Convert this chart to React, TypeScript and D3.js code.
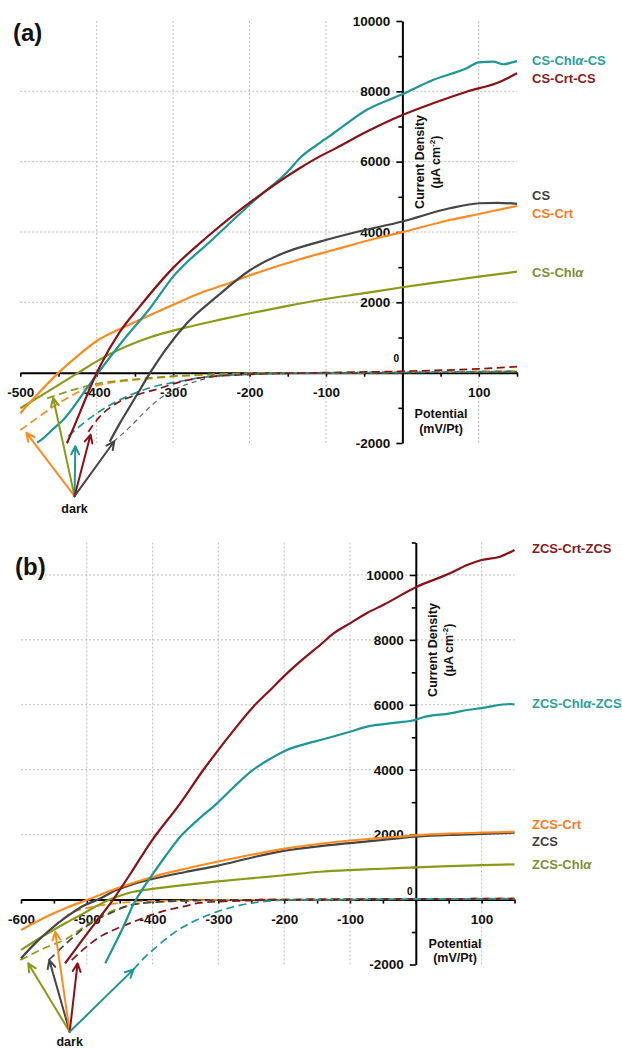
import React, { useEffect, useRef } from 'react';
import * as d3 from 'd3';

type Pt = [number, number];

const FONT = "'Liberation Sans', Arial, Helvetica, sans-serif";

const COLORS: Record<string, string> = {
  teal: "#1c9696",
  red: "#8b1116",
  gray: "#454545",
  orange: "#ff8b1e",
  olive: "#8b9a16",
};
const LABEL_COLORS: Record<string, string> = {
  teal: "#28a09c",
  red: "#8a1a1c",
  gray: "#3f3f3f",
  orange: "#ff7a1e",
  olive: "#7e8e36",
};

// ---------- panel (a): illuminated curves (potential mV, current uA/cm2)
const aCsChlaCs: Pt[] = [[-478, -1990], [-470, -1866], [-457, -1600], [-444, -1345], [-413, -444], [-400, -60], [-365, 930], [-330, 1840], [-300, 2730], [-250, 3760], [-193, 4911], [-150, 5720], [-134, 6106], [-108, 6533], [-90, 6808], [-47, 7470], [0, 7917], [40, 8323], [84, 8656], [100, 8826], [119, 8844], [132, 8770], [147, 8844], [150, 8860]];
const aCsCrtCs: Pt[] = [[-439, -2007], [-428, -1450], [-418, -920], [-402, -100], [-396, 170], [-370, 1150], [-343, 1900], [-300, 2980], [-256, 3850], [-221, 4480], [-195, 4911], [-134, 5820], [-108, 6150], [-90, 6350], [-47, 6850], [0, 7327], [40, 7660], [84, 7990], [128, 8275], [150, 8513]];
const aCs: Pt[] = [[-383, -1962], [-370, -1450], [-356, -940], [-343, -470], [-330, 0], [-310, 650], [-282, 1405], [-243, 2160], [-199, 2920], [-156, 3395], [-108, 3725], [-60, 4000], [0, 4300], [62, 4675], [101, 4817], [125, 4830], [150, 4800]];
const aCsCrt: Pt[] = [[-500, -1155], [-475, -560], [-450, 0], [-425, 480], [-400, 900], [-365, 1290], [-330, 1640], [-300, 1930], [-265, 2258], [-230, 2520], [-199, 2770], [-134, 3226], [-90, 3489], [-45, 3760], [0, 3998], [62, 4342], [100, 4513], [150, 4741]];
const aCsChla: Pt[] = [[-500, -1012], [-462, -510], [-424, 0], [-400, 320], [-374, 620], [-331, 1000], [-282, 1290], [-240, 1500], [-199, 1689], [-150, 1900], [-108, 2067], [-50, 2260], [0, 2428], [50, 2580], [100, 2730], [150, 2872]];

// panel (a): dark curves
const aCsCrtDark: Pt[] = [[-500, -1630], [-478, -1290], [-457, -967], [-435, -680], [-413, -444], [-392, -330], [-370, -256], [-326, -160], [-300, -110], [-250, -55], [-200, -25], [-100, -5], [0, 10], [150, 50]];
const aCsChlaDark: Pt[] = [[-465, -730], [-431, -490], [-396, -300], [-356, -200], [-300, -100], [-250, -50], [-200, -20], [-100, 0], [0, 10], [150, 40]];
const aCsChlaCsDark: Pt[] = [[-437, -1800], [-418, -1450], [-400, -1155], [-370, -776], [-339, -492], [-317, -350], [-300, -284], [-256, -120], [-200, -50], [-100, -10], [0, 5], [150, 40]];
const aCsCrtCsDark: Pt[] = [[-411, -1680], [-396, -1250], [-374, -870], [-348, -634], [-317, -444], [-300, -320], [-265, -150], [-200, -50], [-100, 0], [0, 40], [100, 110], [150, 170]];
const aCsDark: Pt[] = [[-378, -1962], [-356, -1535], [-339, -1155], [-317, -730], [-300, -500], [-270, -250], [-248, -120], [-200, -40], [-100, -5], [0, 0], [150, 30]];

const aDarkOrigin: Pt = [-429, -3513];
const aDarkTips: { color: string; tip: Pt }[] = [
  { color: "orange", tip: [-492, -1713] },
  { color: "olive", tip: [-457, -719] },
  { color: "teal", tip: [-428, -2093] },
  { color: "red", tip: [-408, -1761] },
  { color: "gray", tip: [-377, -1951] },
];

const aXLabels = [-500, -400, -300, -200, -100, 100];
const aYLabels = [-2000, 2000, 4000, 6000, 8000, 10000];
const aXGrid = [-400, -300, -200, -100, 100];
const aYGrid = [2000, 4000, 6000, 8000];

// ---------- panel (b): illuminated curves
const bZcsCrtZcs: Pt[] = [[-533, -1966], [-497, -980], [-460, 0], [-432, 850], [-404, 1734], [-358, 2966], [-323, 3992], [-302, 4560], [-275, 5260], [-247, 5942], [-220, 6480], [-201, 6867], [-176, 7329], [-145, 7850], [-125, 8200], [-100, 8510], [-74, 8830], [-49, 9080], [0, 9622], [52, 10051], [78, 10307], [100, 10461], [128, 10562], [150, 10769]];
const bZcsChlaZcs: Pt[] = [[-472, -1963], [-458, -1400], [-444, -820], [-430, -180], [-415, 330], [-399, 807], [-380, 1350], [-358, 1935], [-330, 2480], [-302, 2965], [-275, 3500], [-247, 4000], [-220, 4350], [-196, 4608], [-170, 4780], [-145, 4916], [-100, 5172], [-74, 5330], [-30, 5450], [0, 5540], [10, 5610], [52, 5738], [78, 5840], [100, 5900], [143, 6025], [150, 6016]];
const bZcsCrt: Pt[] = [[-600, -940], [-556, -478], [-528, -230], [-500, -15], [-455, 340], [-399, 703], [-350, 950], [-302, 1165], [-250, 1380], [-201, 1560], [-145, 1720], [-100, 1820], [-50, 1900], [0, 1980], [50, 2030], [100, 2060], [150, 2090]];
const bZcs: Pt[] = [[-600, -1810], [-580, -1380], [-556, -930], [-530, -520], [-505, -190], [-483, 0], [-455, 293], [-430, 470], [-399, 640], [-350, 850], [-302, 1040], [-250, 1290], [-201, 1500], [-145, 1649], [-100, 1741], [-50, 1840], [0, 1935], [50, 1990], [100, 2020], [150, 2059]];
const bZcsChla: Pt[] = [[-600, -1550], [-578, -1270], [-556, -1000], [-530, -700], [-505, -425], [-485, -200], [-465, 0], [-445, 150], [-429, 240], [-400, 330], [-353, 447], [-300, 560], [-252, 653], [-200, 750], [-145, 857], [-100, 909], [-50, 950], [0, 992], [50, 1030], [100, 1060], [150, 1085]];

// panel (b): dark curves
const bZcsCrtDark: Pt[] = [[-551, -840], [-538, -620], [-525, -423], [-508, -300], [-490, -220], [-455, -115], [-420, -60], [-350, -25], [-250, -5], [-100, 0], [150, 40]];
const bZcsChlaDark: Pt[] = [[-601, -1865], [-565, -1500], [-530, -1197], [-505, -850], [-480, -530], [-455, -300], [-429, -150], [-380, -60], [-300, -20], [-200, 0], [150, 20]];
const bZcsDark: Pt[] = [[-558, -1865], [-530, -1330], [-505, -888], [-485, -620], [-465, -425], [-429, -150], [-380, -60], [-300, -20], [-200, 0], [150, 20]];
const bZcsCrtZcsDark: Pt[] = [[-523, -1865], [-502, -1480], [-480, -1146], [-455, -900], [-429, -684], [-403, -480], [-378, -324], [-350, -200], [-328, -100], [-250, -30], [-150, 0], [150, 30]];
const bZcsChlaZcsDark: Pt[] = [[-429, -2151], [-412, -1780], [-394, -1455], [-374, -1120], [-353, -838], [-328, -580], [-302, -375], [-277, -220], [-252, -117], [-201, -20], [-100, 0], [150, 20]];

const bDarkOrigin: Pt = [-526, -4074];
const bDarkTips: { color: string; tip: Pt }[] = [
  { color: "olive", tip: [-589, -1966] },
  { color: "gray", tip: [-557, -1865] },
  { color: "orange", tip: [-548, -992] },
  { color: "red", tip: [-514, -1966] },
  { color: "teal", tip: [-429, -2151] },
];

const bXLabels = [-600, -500, -400, -300, -200, -100, 100];
const bYLabels = [-2000, 2000, 4000, 6000, 8000, 10000];
const bXGrid = [-500, -400, -300, -200, -100, 100];
const bYGrid = [2000, 4000, 6000, 8000, 10000];

interface Series { data: Pt[]; color: string; dashed?: boolean; thin?: boolean }
interface Legend { text: string; color: string; x: number; y: number }
interface PanelSpec {
  tag: string; tagX: number; tagY: number;
  xDomain: [number, number]; xRange: [number, number];
  yDomain: [number, number]; yRange: [number, number];
  xLabels: number[]; yLabels: number[]; xGrid: number[]; yGrid: number[];
  series: Series[]; legends: Legend[];
  origin: Pt; tips: { color: string; tip: Pt }[]; darkDy: number;
  zeroDx: number; zeroDy: number;
  yTitle: { x1: number; x2: number; cy: number };
  xTitle: { cx: number; y1: number; y2: number };
}

const panels: PanelSpec[] = [
  {
    tag: "(a)", tagX: 13, tagY: 41,
    xDomain: [-500, 150], xRange: [20.3, 517],
    yDomain: [-2000, 10000], yRange: [443, 21],
    xLabels: aXLabels, yLabels: aYLabels, xGrid: aXGrid, yGrid: aYGrid,
    series: [
      { data: aCsCrtDark, color: "orange", dashed: true },
      { data: aCsChlaDark, color: "olive", dashed: true },
      { data: aCsChlaCsDark, color: "teal", dashed: true },
      { data: aCsCrtCsDark, color: "red", dashed: true },
      { data: aCsDark, color: "gray", dashed: true, thin: true },
      { data: aCsChla, color: "olive" },
      { data: aCsCrt, color: "orange" },
      { data: aCs, color: "gray" },
      { data: aCsChlaCs, color: "teal" },
      { data: aCsCrtCs, color: "red" },
    ],
    legends: [
      { text: "CS-Chlα-CS", color: "teal", x: 532, y: 65 },
      { text: "CS-Crt-CS", color: "red", x: 532, y: 83 },
      { text: "CS", color: "gray", x: 532, y: 200 },
      { text: "CS-Crt", color: "orange", x: 532, y: 218 },
      { text: "CS-Chlα", color: "olive", x: 532, y: 276.5 },
    ],
    origin: aDarkOrigin, tips: aDarkTips, darkDy: 17,
    zeroDx: -6, zeroDy: -11,
    yTitle: { x1: 423.5, x2: 440, cy: 162 },
    xTitle: { cx: 441, y1: 418, y2: 432.5 },
  },
  {
    tag: "(b)", tagX: 15, tagY: 575,
    xDomain: [-600, 150], xRange: [21, 514.5],
    yDomain: [-2000, 11000], yRange: [964.5, 542.5],
    xLabels: bXLabels, yLabels: bYLabels, xGrid: bXGrid, yGrid: bYGrid,
    series: [
      { data: bZcsCrtDark, color: "orange", dashed: true },
      { data: bZcsChlaDark, color: "olive", dashed: true },
      { data: bZcsDark, color: "gray", dashed: true },
      { data: bZcsCrtZcsDark, color: "red", dashed: true },
      { data: bZcsChlaZcsDark, color: "teal", dashed: true },
      { data: bZcsChla, color: "olive" },
      { data: bZcs, color: "gray" },
      { data: bZcsCrt, color: "orange" },
      { data: bZcsChlaZcs, color: "teal" },
      { data: bZcsCrtZcs, color: "red" },
    ],
    legends: [
      { text: "ZCS-Crt-ZCS", color: "red", x: 532, y: 552.5 },
      { text: "ZCS-Chlα-ZCS", color: "teal", x: 532, y: 708 },
      { text: "ZCS-Crt", color: "orange", x: 532, y: 829 },
      { text: "ZCS", color: "gray", x: 532, y: 846 },
      { text: "ZCS-Chlα", color: "olive", x: 532, y: 869 },
    ],
    origin: bDarkOrigin, tips: bDarkTips, darkDy: 14.5,
    zeroDx: -6, zeroDy: -4.5,
    yTitle: { x1: 437, x2: 453, cy: 650 },
    xTitle: { cx: 455, y1: 948, y2: 962 },
  },
];

const drawPanel = (svg: d3.Selection<SVGSVGElement, unknown, null, undefined>, p: PanelSpec) => {
  const x = d3.scaleLinear().domain(p.xDomain).range(p.xRange);
  const y = d3.scaleLinear().domain(p.yDomain).range(p.yRange);
  const [x0, x1] = p.xDomain;
  const [y0, y1] = p.yDomain;
  const g = svg.append("g");

  // dotted grid
  const grid = g.append("g")
    .attr("stroke", "#b5b5b5")
    .attr("stroke-width", 0.9)
    .attr("stroke-dasharray", "2,2");
  grid.selectAll("line.v").data(p.xGrid).join("line").attr("class", "v")
    .attr("x1", d => x(d)).attr("x2", d => x(d))
    .attr("y1", y(y1)).attr("y2", y(y0));
  grid.selectAll("line.h").data(p.yGrid).join("line").attr("class", "h")
    .attr("x1", x(x0)).attr("x2", x(x1))
    .attr("y1", d => y(d)).attr("y2", d => y(d));

  // axes crossing at the origin
  const gx = g.append("g")
    .attr("transform", `translate(0,${y(0)})`)
    .call(d3.axisBottom(x)
      .tickValues(d3.range(x0, x1 + 1, 50))
      .tickSize(4).tickSizeOuter(0).tickPadding(11)
      .tickFormat(d => p.xLabels.includes(+d) ? String(d) : ""));

  const gy = g.append("g")
    .attr("transform", `translate(${x(0)},0)`)
    .call(d3.axisLeft(y)
      .tickValues(d3.range(y0, y1 + 1, 1000))
      .tickSize(6).tickSizeOuter(0).tickPadding(6)
      .tickFormat(d => p.yLabels.includes(+d) ? String(d) : ""));
  gy.selectAll<SVGLineElement, number>(".tick line")
    .filter(d => d % 2000 !== 0)
    .attr("x2", -4);

  [gx, gy].forEach(a => {
    a.attr("font-family", FONT).attr("font-size", 13.5).attr("font-weight", "bold");
    a.select(".domain").attr("stroke", "#000").attr("stroke-width", 2);
    a.selectAll(".tick line").attr("stroke", "#000").attr("stroke-width", 1.6);
    a.selectAll(".tick text").attr("fill", "#111");
  });

  g.append("text")
    .attr("x", x(0) + p.zeroDx).attr("y", y(0) + p.zeroDy)
    .attr("text-anchor", "middle")
    .attr("font-family", FONT).attr("font-size", 10).attr("font-weight", "bold")
    .text("0");

  // curves
  const line = d3.line<Pt>()
    .x(d => x(d[0]))
    .y(d => y(d[1]))
    .curve(d3.curveMonotoneX);

  g.append("g").selectAll("path").data(p.series).join("path")
    .attr("d", d => line(d.data))
    .attr("fill", "none")
    .attr("stroke", d => d.thin ? "#555" : COLORS[d.color])
    .attr("stroke-width", d => d.dashed ? (d.thin ? 1.1 : 1.7) : 2.2)
    .attr("stroke-dasharray", d => d.dashed ? (d.thin ? "5,4" : "8,4.5") : null)
    .attr("stroke-linejoin", "round");

  // "dark" arrows
  const ox = x(p.origin[0]);
  const oy = y(p.origin[1]);
  const L = 9;
  const a = 0.45;
  g.append("g").selectAll("path").data(p.tips).join("path")
    .attr("d", d => {
      const tx = x(d.tip[0]);
      const ty = y(d.tip[1]);
      const ang = Math.atan2(ty - oy, tx - ox);
      return `M${ox},${oy}L${tx},${ty}` +
        `M${tx - L * Math.cos(ang - a)},${ty - L * Math.sin(ang - a)}L${tx},${ty}` +
        `L${tx - L * Math.cos(ang + a)},${ty - L * Math.sin(ang + a)}`;
    })
    .attr("fill", "none")
    .attr("stroke", d => COLORS[d.color])
    .attr("stroke-width", 2)
    .attr("stroke-linecap", "round")
    .attr("stroke-linejoin", "round");

  g.append("text")
    .attr("x", ox).attr("y", oy + p.darkDy)
    .attr("text-anchor", "middle")
    .attr("font-family", FONT).attr("font-size", 12.5).attr("font-weight", "bold")
    .attr("fill", "#111")
    .text("dark");

  // series labels
  p.legends.forEach(l => {
    const t = g.append("text")
      .attr("x", l.x).attr("y", l.y)
      .attr("font-family", FONT).attr("font-size", 13).attr("font-weight", "bold")
      .attr("fill", LABEL_COLORS[l.color]);
    const parts = l.text.split("α");
    parts.forEach((s, i) => {
      t.append("tspan").text(s);
      if (i < parts.length - 1) t.append("tspan").attr("font-style", "italic").text("α");
    });
  });

  // axis titles
  const title = g.append("g")
    .attr("font-family", FONT).attr("font-size", 12.5).attr("font-weight", "bold")
    .attr("fill", "#111").attr("text-anchor", "middle");
  title.append("text")
    .attr("transform", `translate(${p.yTitle.x1},${p.yTitle.cy}) rotate(-90)`)
    .text("Current Density");
  const t2 = title.append("text")
    .attr("transform", `translate(${p.yTitle.x2},${p.yTitle.cy}) rotate(-90)`);
  t2.append("tspan").text("(µA cm");
  t2.append("tspan").attr("font-size", 8).attr("dy", -5).text("-2");
  t2.append("tspan").attr("dy", 5).text(")");
  title.append("text").attr("x", p.xTitle.cx).attr("y", p.xTitle.y1).text("Potential");
  title.append("text").attr("x", p.xTitle.cx).attr("y", p.xTitle.y2).text("(mV/Pt)");

  g.append("text")
    .attr("x", p.tagX).attr("y", p.tagY)
    .attr("font-family", FONT).attr("font-size", 24).attr("font-weight", "bold")
    .attr("fill", "#111")
    .text(p.tag);
};

export default function App() {
  const svgRef = useRef<SVGSVGElement>(null);

  useEffect(() => {
    if (!svgRef.current) return;
    const svg = d3.select(svgRef.current);
    svg.selectAll("*").remove();
    svg.append("rect").attr("width", 622).attr("height", 1051).attr("fill", "#fff");
    panels.forEach(p => drawPanel(svg, p));
  }, []);

  return (
    <svg
      ref={svgRef}
      width={622}
      height={1051}
      style={{ position: 'absolute', left: 0, top: 0 }}
    />
  );
}
